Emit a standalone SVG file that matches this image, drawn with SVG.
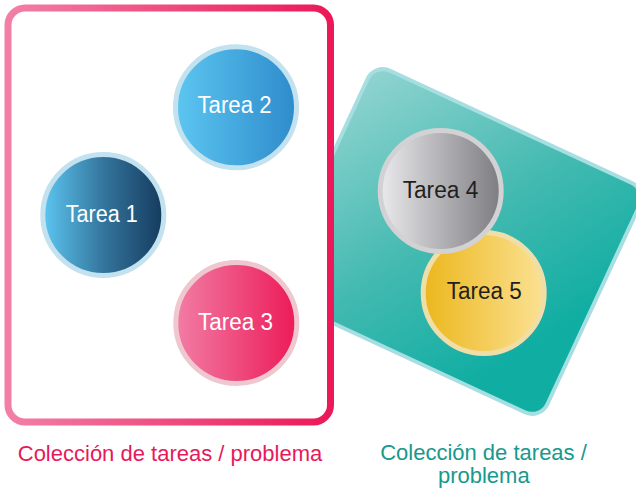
<svg xmlns="http://www.w3.org/2000/svg" width="636" height="495" viewBox="0 0 636 495">
<defs>
  <linearGradient id="gPink" x1="0" y1="0" x2="1" y2="0">
    <stop offset="0" stop-color="#f27fa7"/>
    <stop offset="1" stop-color="#ec1857"/>
  </linearGradient>
  <linearGradient id="gTeal" x1="0" y1="0" x2="1" y2="0.55">
    <stop offset="0" stop-color="#92d4d1"/>
    <stop offset="0.55" stop-color="#44bab1"/>
    <stop offset="1" stop-color="#0fada2"/>
  </linearGradient>
  <linearGradient id="g1" x1="0" y1="0" x2="1" y2="0">
    <stop offset="0" stop-color="#5cc6f1"/>
    <stop offset="0.5" stop-color="#34759d"/>
    <stop offset="1" stop-color="#153a5e"/>
  </linearGradient>
  <linearGradient id="g2" x1="0" y1="0" x2="1" y2="0">
    <stop offset="0" stop-color="#5cc6f1"/>
    <stop offset="1" stop-color="#2e8bcb"/>
  </linearGradient>
  <linearGradient id="g3" x1="0" y1="0" x2="1" y2="0">
    <stop offset="0" stop-color="#f27da5"/>
    <stop offset="1" stop-color="#ec1a58"/>
  </linearGradient>
  <linearGradient id="g4" x1="0" y1="0" x2="1" y2="0">
    <stop offset="0" stop-color="#eaeaec"/>
    <stop offset="1" stop-color="#7c7c81"/>
  </linearGradient>
  <linearGradient id="g5" x1="0" y1="0" x2="1" y2="0">
    <stop offset="0" stop-color="#ecb71d"/>
    <stop offset="1" stop-color="#fbe193"/>
  </linearGradient>
  <style>
    .ring { stroke-width: 5; }
    .lbl { font-family: "Liberation Sans", Arial, sans-serif; font-size: 23px; text-anchor: middle; }
    .w { fill: #ffffff; }
    .d { fill: #231f20; }
    .cap { font-family: "Liberation Sans", Arial, sans-serif; font-size: 22px; text-anchor: middle; }
  </style>
</defs>

<g id="teal-collection">
  <g transform="translate(457.5,241.5) rotate(24.9)">
    <rect x="-150" y="-126.5" width="300" height="253" rx="17" fill="url(#gTeal)" stroke="#a7dee2" stroke-width="4"/>
  </g>
</g>

<g id="pink-collection">
  <rect x="8" y="8" width="322.5" height="414" rx="17" fill="#ffffff" stroke="url(#gPink)" stroke-width="7"/>
</g>

<g id="connectors"></g>

<g id="tarea1">
  <circle cx="103.3" cy="215" r="60.5" fill="url(#g1)" stroke="#c3e2ef" class="ring"/>
  <text x="101.7" y="221.7" class="lbl w" textLength="72" lengthAdjust="spacingAndGlyphs">Tarea 1</text>
</g>
<g id="tarea2">
  <circle cx="236" cy="107.3" r="60.5" fill="url(#g2)" stroke="#c3e2ef" class="ring"/>
  <text x="234.5" y="113.3" class="lbl w" textLength="74" lengthAdjust="spacingAndGlyphs">Tarea 2</text>
</g>
<g id="tarea3">
  <circle cx="236.3" cy="323" r="60.5" fill="url(#g3)" stroke="#efc7cf" class="ring"/>
  <text x="235.5" y="330" class="lbl w" textLength="75" lengthAdjust="spacingAndGlyphs">Tarea 3</text>
</g>
<g id="tarea5">
  <circle cx="483.7" cy="293" r="60.5" fill="url(#g5)" stroke="#f0dea9" class="ring"/>
  <text x="484.2" y="299" class="lbl d" textLength="75" lengthAdjust="spacingAndGlyphs">Tarea 5</text>
</g>
<g id="tarea4">
  <circle cx="440.7" cy="191" r="60.5" fill="url(#g4)" stroke="#d2d2d4" class="ring"/>
  <text x="440.5" y="197.7" class="lbl d" textLength="75.6" lengthAdjust="spacingAndGlyphs">Tarea 4</text>
</g>

<g id="captions">
  <text x="170" y="461" class="cap" fill="#e6195a">Colección de tareas / problema</text>
  <text x="483.5" y="460" class="cap" fill="#17998d">Colección de tareas /</text>
  <text x="483.8" y="483.3" class="cap" fill="#17998d">problema</text>
</g>
</svg>
